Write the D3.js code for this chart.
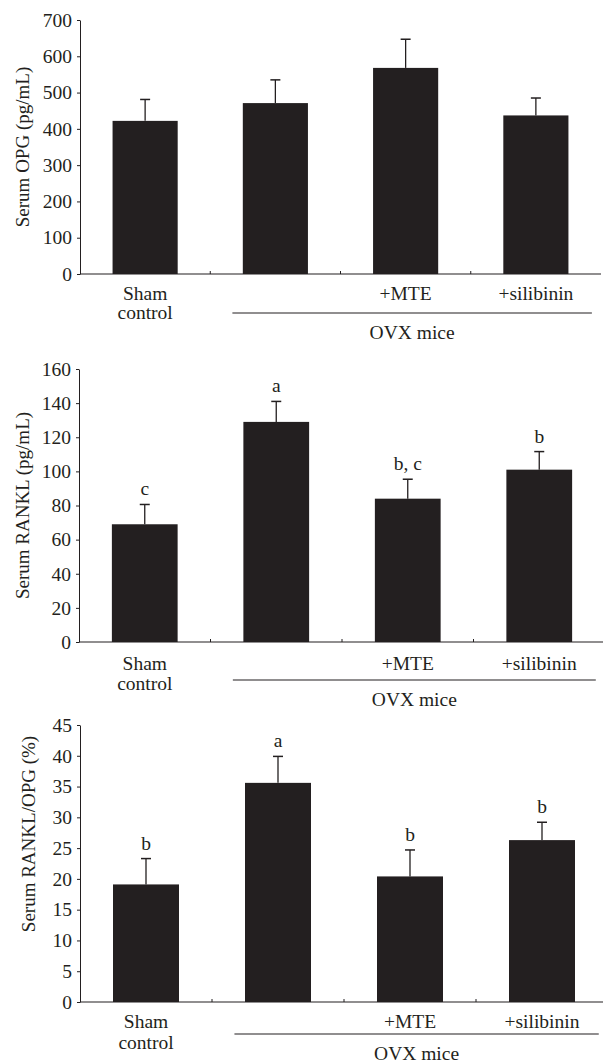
<!DOCTYPE html>
<html>
<head>
<meta charset="utf-8">
<script src="https://cdn.jsdelivr.net/npm/d3@7"></script>
<style>
  body { margin: 0; background: #fff; }
  text { font-family: "Liberation Serif", "DejaVu Serif", serif; fill: #231f20; }
</style>
</head>
<body>
<svg id="fig" width="603" height="1063"></svg>
<script>
// groups on the x axis
const groups = ["Sham control", "OVX", "+MTE", "+silibinin"];

// serum OPG (pg/mL)
const opgMean = [422, 471, 568, 437];
const opgErr = [59, 64, 79, 48];
const opgTicks = [0, 100, 200, 300, 400, 500, 600, 700];

// serum RANKL (pg/mL)
const ranklMean = [69, 129, 84, 101];
const ranklErr = [11.6, 12, 11.4, 10.6];
const ranklLetters = ["c", "a", "b, c", "b"];
const ranklTicks = [0, 20, 40, 60, 80, 100, 120, 140, 160];

// serum RANKL/OPG (%)
const ratioMean = [19.1, 35.6, 20.4, 26.3];
const ratioErr = [4.2, 4.3, 4.3, 2.9];
const ratioLetters = ["b", "a", "b", "b"];
const ratioTicks = [0, 5, 10, 15, 20, 25, 30, 35, 40, 45];

const ink = "#231f20";
const fs = 19.5;
const svg = d3.select("#fig");

// panel boxes (left, right, top, bottom of the plotting area) + label offsets below zero
const panels = [
  {title: "Serum OPG (pg/mL)", mean: opgMean, err: opgErr, letters: null, ticks: opgTicks,
   x0: 80, x1: 601, top: 20, bottom: 274, titleX: 22, titleY: null,
   sham: 26, ctrl: 45, rule: 39, ovx: 65},
  {title: "Serum RANKL (pg/mL)", mean: ranklMean, err: ranklErr, letters: ranklLetters, ticks: ranklTicks,
   x0: 79, x1: 605, top: 369, bottom: 642, titleX: 22, titleY: null,
   sham: 28, ctrl: 48, rule: 38, ovx: 64},
  {title: "Serum RANKL/OPG (%)", mean: ratioMean, err: ratioErr, letters: ratioLetters, ticks: ratioTicks,
   x0: 80, x1: 608, top: 725, bottom: 1002, titleX: 28, titleY: 834,
   sham: 26, ctrl: 47, rule: 32, ovx: 58}
];

panels.forEach(p => {
  const g = svg.append("g");

  const x = d3.scaleBand().domain(groups).range([p.x0, p.x1]).paddingInner(0.5).paddingOuter(0.25);
  const y = d3.scaleLinear().domain([0, d3.max(p.ticks)]).range([p.bottom, p.top]);

  // y axis
  const yAxis = g.append("g")
    .attr("transform", `translate(${p.x0},0)`)
    .call(d3.axisLeft(y).tickValues(p.ticks).tickSize(3).tickSizeOuter(0).tickPadding(5));
  yAxis.select(".domain").attr("stroke", ink).attr("stroke-width", 1);
  yAxis.selectAll(".tick line").attr("stroke", ink);
  yAxis.selectAll(".tick text").attr("font-size", fs).style("font-family", "Liberation Serif").attr("fill", ink);

  // x baseline with small ticks between groups
  g.append("line")
    .attr("x1", p.x0).attr("x2", p.x1)
    .attr("y1", y(0)).attr("y2", y(0))
    .attr("stroke", ink).attr("stroke-width", 1.2);
  const step = x.step();
  g.selectAll(".xtick").data(groups.slice(1)).enter().append("line")
    .attr("x1", d => x(d) - step * 0.25).attr("x2", d => x(d) - step * 0.25)
    .attr("y1", y(0)).attr("y2", y(0) - 3)
    .attr("stroke", ink);

  // bars
  g.selectAll(".bar").data(p.mean).enter().append("rect")
    .attr("x", (d, i) => x(groups[i]))
    .attr("width", x.bandwidth())
    .attr("y", d => y(d))
    .attr("height", d => y(0) - y(d))
    .attr("fill", ink);

  // upper error bars
  const cx = i => x(groups[i]) + x.bandwidth() / 2;
  g.selectAll(".err").data(p.mean).enter().append("line")
    .attr("x1", (d, i) => cx(i)).attr("x2", (d, i) => cx(i))
    .attr("y1", d => y(d)).attr("y2", (d, i) => y(d + p.err[i]))
    .attr("stroke", ink).attr("stroke-width", 1.3);
  g.selectAll(".cap").data(p.mean).enter().append("line")
    .attr("x1", (d, i) => cx(i) - 5).attr("x2", (d, i) => cx(i) + 5)
    .attr("y1", (d, i) => y(d + p.err[i])).attr("y2", (d, i) => y(d + p.err[i]))
    .attr("stroke", ink).attr("stroke-width", 1.5);

  // significance letters
  if (p.letters) {
    g.selectAll(".letter").data(p.letters).enter().append("text")
      .attr("x", (d, i) => cx(i))
      .attr("y", (d, i) => y(p.mean[i] + p.err[i]) - 9)
      .attr("text-anchor", "middle")
      .attr("font-size", fs)
      .text(d => d);
  }

  // y title
  const ty = p.titleY || (p.top + p.bottom) / 2;
  g.append("text")
    .attr("transform", `translate(${p.titleX},${ty}) rotate(-90)`)
    .attr("text-anchor", "middle")
    .attr("dy", "0.35em")
    .attr("font-size", 19)
    .text(p.title);

  // group labels under the axis
  const base = y(0);
  const c0 = cx(0);
  g.append("text").attr("x", c0).attr("y", base + p.sham).attr("text-anchor", "middle").attr("font-size", fs).text("Sham");
  g.append("text").attr("x", c0).attr("y", base + p.ctrl).attr("text-anchor", "middle").attr("font-size", fs).text("control");
  [2, 3].forEach(i => {
    g.append("text").attr("x", cx(i)).attr("y", base + p.sham).attr("text-anchor", "middle").attr("font-size", fs).text(groups[i]);
  });
  const lx0 = x(groups[1]) - step * 0.08;
  const lx1 = x(groups[3]) + x.bandwidth() + step * 0.18;
  g.append("line")
    .attr("x1", lx0).attr("x2", lx1)
    .attr("y1", base + p.rule).attr("y2", base + p.rule)
    .attr("stroke", ink).attr("stroke-width", 1.2);
  g.append("text").attr("x", (lx0 + lx1) / 2).attr("y", base + p.ovx).attr("text-anchor", "middle").attr("font-size", fs).text("OVX mice");
});
</script>
</body>
</html>
